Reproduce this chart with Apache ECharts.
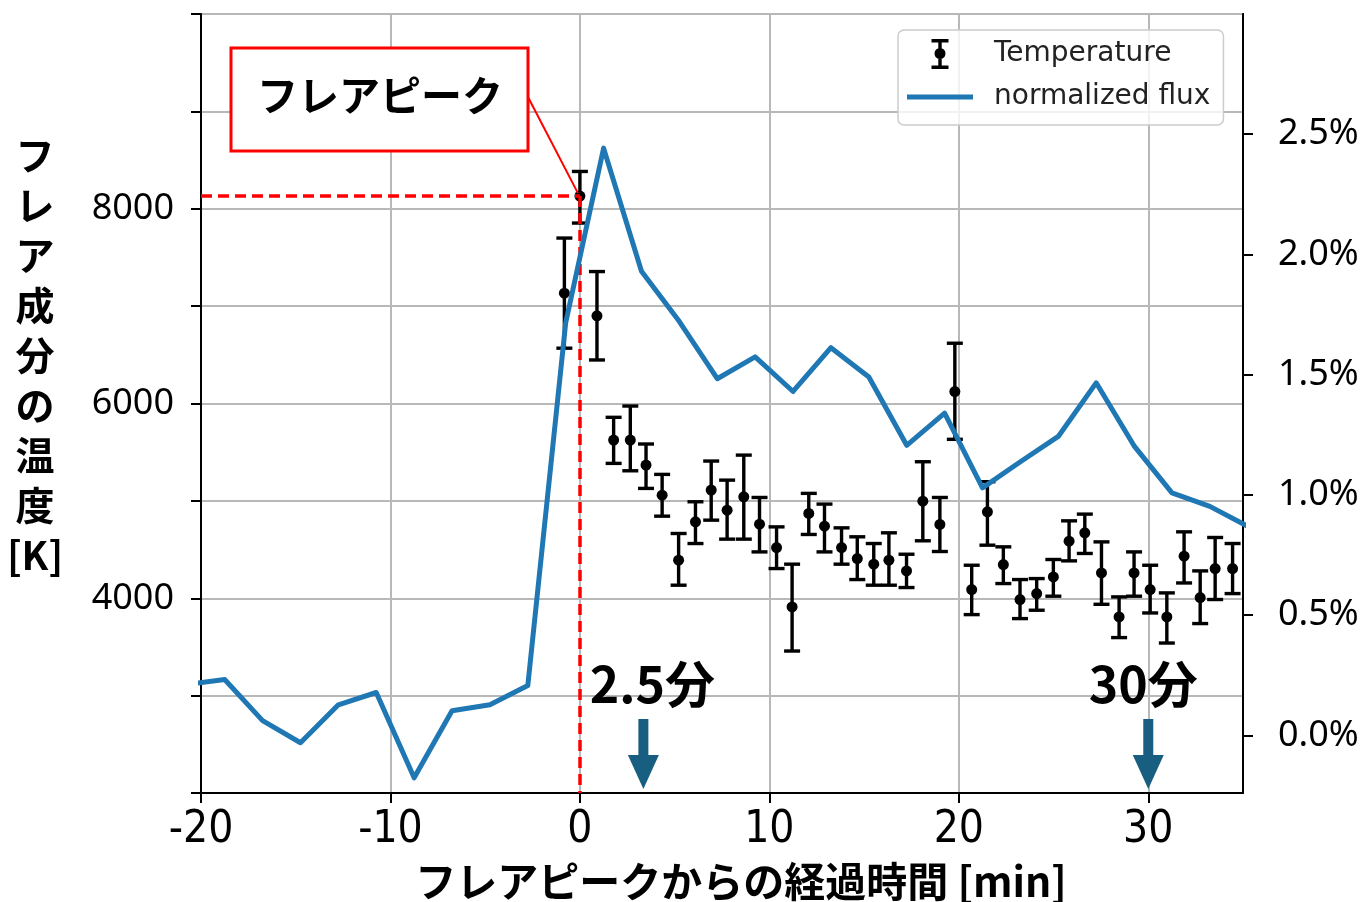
<!DOCTYPE html>
<html>
<head>
<meta charset="utf-8">
<script src="https://cdn.jsdelivr.net/npm/echarts@6/dist/echarts.min.js"></script>
<style>
  html, body { margin: 0; padding: 0; background: #fff; }
  #chart { width: 1369px; height: 902px; }
</style>
</head>
<body>
<div id="chart"></div>
<script>
// Normalized flux [%], sampled every 2 minutes
const fluxTime = [-20.75, -18.75, -16.75, -14.75, -12.75, -10.75, -8.75, -6.75, -4.75, -2.75,
                  -0.75, 1.25, 3.25, 5.25, 7.25, 9.25, 11.25, 13.25, 15.25, 17.25,
                  19.25, 21.25, 23.25, 25.25, 27.25, 29.25, 31.25, 33.25, 35.25];
const fluxValue = [0.211, 0.232, 0.061, -0.031, 0.127, 0.178, -0.177, 0.102, 0.127, 0.207,
                   1.716, 2.442, 1.930, 1.721, 1.483, 1.574, 1.430, 1.612, 1.490, 1.206,
                   1.340, 1.029, 1.138, 1.243, 1.466, 1.204, 1.008, 0.952, 0.869];

// Flare component temperature [K] with lower / upper error bounds
const tempTime = [-0.82, 0, 0.9, 1.78, 2.66, 3.49, 4.34, 5.21, 6.1, 6.93,
                  7.77, 8.65, 9.48, 10.38, 11.2, 12.08, 12.91, 13.81, 14.64, 15.51,
                  16.31, 17.24, 18.1, 19.0, 19.79, 20.68, 21.51, 22.35, 23.23, 24.11,
                  24.99, 25.82, 26.65, 27.53, 28.46, 29.25, 30.1, 30.98, 31.89, 32.74,
                  33.53, 34.45];
const tempValue = [7133, 8130, 6900, 5625, 5625, 5368, 5059, 4391, 4785, 5111,
                   4905, 5042, 4761, 4521, 3911, 4871, 4740, 4521, 4408, 4350,
                   4391, 4281, 4997, 4758, 6122, 4089, 4888, 4346, 3987, 4048,
                   4219, 4586, 4672, 4260, 3808, 4260, 4089, 3808, 4432, 4007,
                   4305, 4305];
const tempLow = [6568, 7853, 6447, 5385, 5309, 5128, 4843, 4134, 4562, 4802,
                 4607, 4607, 4476, 4305, 3458, 4655, 4476, 4350, 4192, 4134,
                 4134, 4110, 4590, 4480, 5632, 3832, 4545, 4151, 3791, 3877,
                 4021, 4384, 4460, 3938, 3596, 4021, 3849, 3540, 4157, 3740,
                 3987, 4048];
const tempHigh = [7699, 8383, 7355, 5858, 5974, 5584, 5272, 4665, 4991, 5409,
                  5213, 5470, 5035, 4733, 4350, 5077, 4967, 4723, 4631, 4562,
                  4672, 4452, 5402, 5035, 6619, 4339, 5197, 4528, 4192, 4202,
                  4398, 4795, 4864, 4579, 4014, 4476, 4339, 4055, 4682, 4281,
                  4624, 4562];

// Tick labels
const xTicks = [-20, -10, 0, 10, 20, 30];
const tempTickLabels = [4000, 6000, 8000];
const fluxTicks = [0, 0.5, 1.0, 1.5, 2.0, 2.5];

// Annotations: flare peak and elapsed-time markers
const peakTime = 0;
const peakTemp = 8130;
const peakLabel = 'フレアピーク';
const markerTimes = [3.35, 30];
const markerLabels = ['2.5分', '30分'];

const TEMP_MIN = 2000, TEMP_MAX = 10000;
const JP = '"Noto Sans CJK JP", "Noto Sans CJK SC", sans-serif';
const MARKER_LABEL_DX = [9, -5];

const chart = echarts.init(document.getElementById('chart'), null, { renderer: 'canvas' });

function renderErrorBar(params, api) {
  const t = api.value(0);
  const c = api.coord([t, api.value(1)]);
  const lo = api.coord([t, api.value(2)]);
  const hi = api.coord([t, api.value(3)]);
  const cap = 8;
  const st = { stroke: '#000', lineWidth: 3.4 };
  return {
    type: 'group',
    children: [
      { type: 'line', shape: { x1: c[0], y1: hi[1], x2: c[0], y2: lo[1] }, style: st },
      { type: 'line', shape: { x1: c[0] - cap, y1: hi[1], x2: c[0] + cap, y2: hi[1] }, style: st },
      { type: 'line', shape: { x1: c[0] - cap, y1: lo[1], x2: c[0] + cap, y2: lo[1] }, style: st },
      { type: 'circle', shape: { cx: c[0], cy: c[1], r: 5.5 }, style: { fill: '#000' } }
    ]
  };
}

function renderMarker(params, api) {
  const t = api.value(0);
  const base = api.coord([t, TEMP_MIN]);
  const x = base[0], tip = base[1] - 4;
  const color = '#175e80';
  return {
    type: 'group',
    children: [
      { type: 'rect', shape: { x: x - 5, y: tip - 70, width: 10, height: 36 }, style: { fill: color } },
      { type: 'polygon', shape: { points: [[x - 15.5, tip - 34], [x + 15.5, tip - 34], [x, tip]] }, style: { fill: color } },
      { type: 'text', x: x + MARKER_LABEL_DX[params.dataIndex], y: tip - 105,
        style: { text: markerLabels[params.dataIndex], font: 'bold 50px ' + JP, fill: '#000',
                 align: 'center', verticalAlign: 'middle' } }
    ]
  };
}

// Legend glyphs drawn in a 66x30 box
const errIcon = 'path://M0,0M66,30M31.3,0H34.7V30H31.3ZM24.5,0H41.5V3.4H24.5ZM24.5,26.6H41.5V30H24.5Z' +
                'M38.5,14.5A5.5,5.5,0,1,1,27.5,14.5A5.5,5.5,0,1,1,38.5,14.5Z';
const lineIcon = 'path://M0,0M66,30M0,12.6H66V17.4H0Z';

const tickLine = { color: '#000', width: 2 };

const option = {
  animation: false,
  backgroundColor: '#fff',
  grid: { left: 201, right: 126, top: 14, bottom: 109, show: true, borderColor: '#000', borderWidth: 2, backgroundColor: 'transparent' },
  legend: {
    orient: 'vertical', left: 898, top: 30,
    padding: [9, 13, 13, 9], itemGap: 13, itemWidth: 66, itemHeight: 30,
    backgroundColor: 'rgba(255,255,255,0.8)', borderColor: '#cccccc', borderWidth: 1.5, borderRadius: 6,
    selectedMode: false,
    textStyle: { fontFamily: '"DejaVu Sans", sans-serif', fontSize: 28, color: '#222', padding: [0, 0, 0, 16] },
    data: [
      { name: 'Temperature', icon: errIcon, itemStyle: { color: '#000', borderWidth: 0 } },
      { name: 'normalized flux', icon: lineIcon, itemStyle: { color: '#1f77b4', borderWidth: 0 } }
    ]
  },
  xAxis: {
    type: 'value', min: -20, max: 35, interval: 10,
    axisLine: { show: true, onZero: false, lineStyle: tickLine },
    axisTick: { show: true, length: 10, lineStyle: tickLine, customValues: xTicks },
    axisLabel: { customValues: xTicks, color: '#000', fontSize: 44, margin: 16,
                 fontFamily: '"Liberation Sans Narrow", "DejaVu Sans Condensed", sans-serif' },
    splitLine: { show: true, lineStyle: { color: '#b8b8b8', width: 2 } }
  },
  yAxis: [
    {
      type: 'value', position: 'left', min: TEMP_MIN, max: TEMP_MAX, interval: 1000,
      axisLine: { show: true, onZero: false, lineStyle: tickLine },
      axisTick: { show: true, length: 10, lineStyle: tickLine },
      axisLabel: { color: '#000', fontSize: 36, margin: 27, fontFamily: '"Noto Sans", sans-serif',
                   formatter: v => tempTickLabels.includes(v) ? String(v) : '' },
      splitLine: { show: true, lineStyle: { color: '#b8b8b8', width: 2 } }
    },
    {
      type: 'value', position: 'right', min: -0.24, max: 3.0,
      axisLine: { show: true, onZero: false, lineStyle: tickLine },
      axisTick: { show: true, length: 10, lineStyle: tickLine, customValues: fluxTicks },
      axisLabel: { customValues: fluxTicks, color: '#000', fontSize: 36, margin: 35,
                   fontFamily: '"Noto Sans", sans-serif', formatter: v => v.toFixed(1) + '%' },
      splitLine: { show: false }
    }
  ],
  series: [
    {
      name: 'Temperature', type: 'custom', xAxisIndex: 0, yAxisIndex: 0, z: 3,
      itemStyle: { color: '#000' },
      renderItem: renderErrorBar,
      encode: { x: 0, y: [1, 2, 3] },
      data: tempTime.map((t, i) => [t, tempValue[i], tempLow[i], tempHigh[i]]),
      markLine: {
        silent: true, symbol: 'none', animation: false,
        label: { show: false },
        lineStyle: { color: '#ff0000', width: 3.5, type: [11, 6] },
        data: [
          [{ coord: [-20, peakTemp] }, { coord: [peakTime, peakTemp] }],
          [{ coord: [peakTime, peakTemp] }, { coord: [peakTime, TEMP_MIN] }]
        ]
      }
    },
    {
      name: 'normalized flux', type: 'line', xAxisIndex: 0, yAxisIndex: 1, z: 5,
      symbol: 'none', showSymbol: false, clip: true,
      lineStyle: { color: '#1f77b4', width: 5, join: 'round' },
      itemStyle: { color: '#1f77b4' },
      data: fluxTime.map((t, i) => [t, fluxValue[i]])
    },
    {
      name: 'markers', type: 'custom', xAxisIndex: 0, yAxisIndex: 0, z: 6, silent: true,
      renderItem: renderMarker,
      encode: { x: 0 },
      data: markerTimes.map(t => [t])
    }
  ]
};

chart.setOption(option);

// Callout box and axis titles
const peakPx = chart.convertToPixel({ xAxisIndex: 0, yAxisIndex: 0 }, [peakTime, peakTemp]);
chart.setOption({
  graphic: [
    { type: 'line', z: 100, shape: { x1: 528, y1: 97, x2: peakPx[0] - 2, y2: peakPx[1] - 3 },
      style: { stroke: '#ff0000', lineWidth: 2 } },
    { type: 'rect', z: 100, shape: { x: 231, y: 48, width: 297, height: 103 },
      style: { fill: '#fff', stroke: '#ff0000', lineWidth: 3 } },
    { type: 'text', z: 101, x: 380, y: 95,
      style: { text: peakLabel, font: 'bold 41px ' + JP, fill: '#000', align: 'center', verticalAlign: 'middle' } },
    { type: 'text', z: 100, x: 35, y: 130,
      style: { text: 'フ\nレ\nア\n成\n分\nの\n温\n度\n[K]', font: 'bold 39px ' + JP, lineHeight: 50,
               fill: '#000', align: 'center', verticalAlign: 'top' } },
    { type: 'text', z: 100, x: 741, y: 881,
      style: { text: 'フレアピークからの経過時間 [min]', font: 'bold 41px ' + JP, fill: '#000',
               align: 'center', verticalAlign: 'middle' } }
  ]
});
</script>
</body>
</html>
